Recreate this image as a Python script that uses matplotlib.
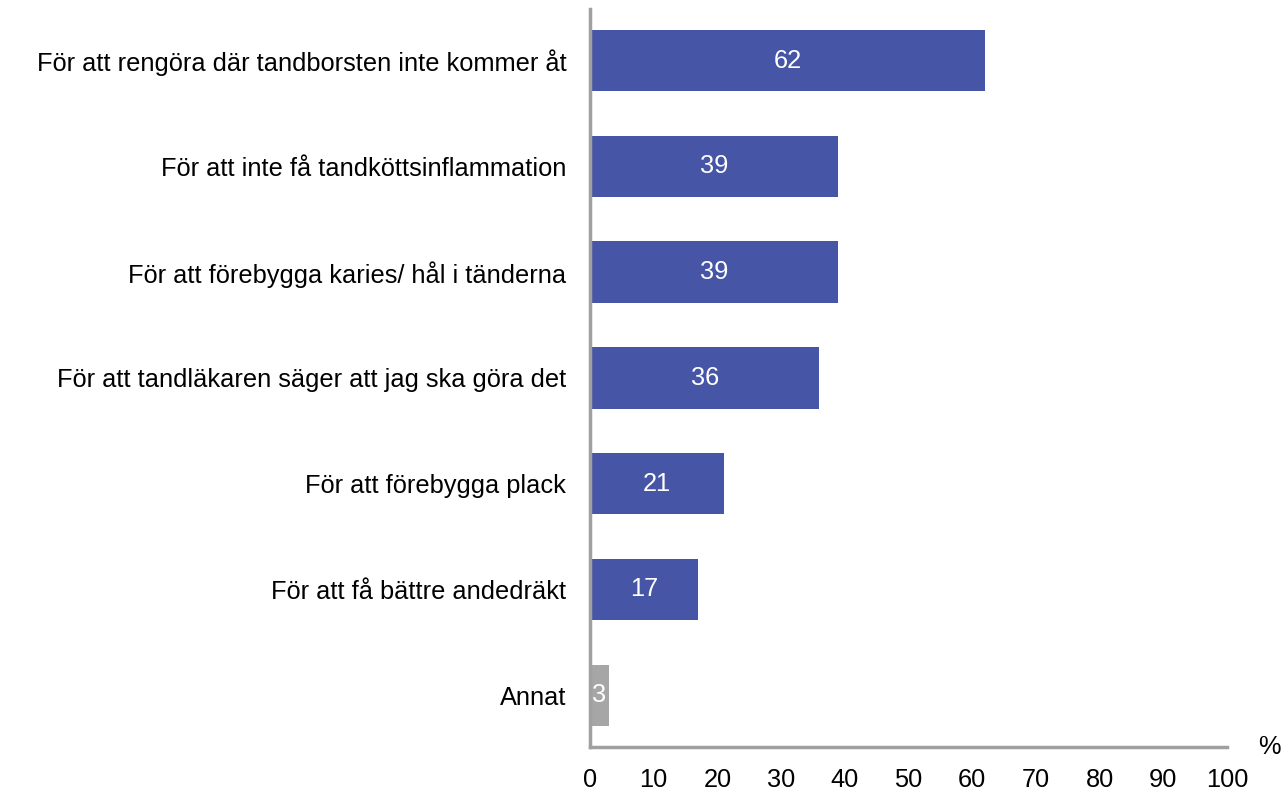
import matplotlib.pyplot as plt

plt.rcParams['font.family'] = ['Liberation Sans', 'DejaVu Sans']

categories = [
    "För att rengöra där tandborsten inte kommer åt",
    "För att inte få tandköttsinflammation",
    "För att förebygga karies/ hål i tänderna",
    "För att tandläkaren säger att jag ska göra det",
    "För att förebygga plack",
    "För att få bättre andedräkt",
    "Annat",
]
values = [62, 39, 39, 36, 21, 17, 3]
bar_colors = ["#4655A5"] * 6 + ["#A6A6A6"]
xticks = list(range(0, 101, 10))

fig = plt.figure(figsize=(12.87, 7.93), dpi=100)
ax = fig.add_axes([0.4584, 0.058, 0.4950, 0.931])

ypos = list(range(len(categories)))
bars = ax.barh(ypos, values, height=0.58, color=bar_colors)

# value labels inside the bars
for y, v in zip(ypos, values):
    ax.text(v / 2, y, str(v), ha='center', va='center', color='white', fontsize=18.3)

ax.set_yticks(ypos)
ax.set_yticklabels(categories, fontsize=18.3)
ax.set_ylim(6.49, -0.49)
ax.set_xlim(0, 100)
ax.set_xticks(xticks)
ax.set_xticklabels([str(t) for t in xticks], fontsize=18.3)
ax.tick_params(axis='both', length=0)
ax.tick_params(axis='y', pad=17)
ax.tick_params(axis='x', pad=15)

for side in ['top', 'right']:
    ax.spines[side].set_visible(False)
for side in ['left', 'bottom']:
    ax.spines[side].set_color('#A0A0A0')
    ax.spines[side].set_linewidth(2.5)

ax.text(1.067, 0.0, "%", transform=ax.transAxes, ha='center', va='center', fontsize=18.3)

plt.savefig("out.png", dpi=100)
